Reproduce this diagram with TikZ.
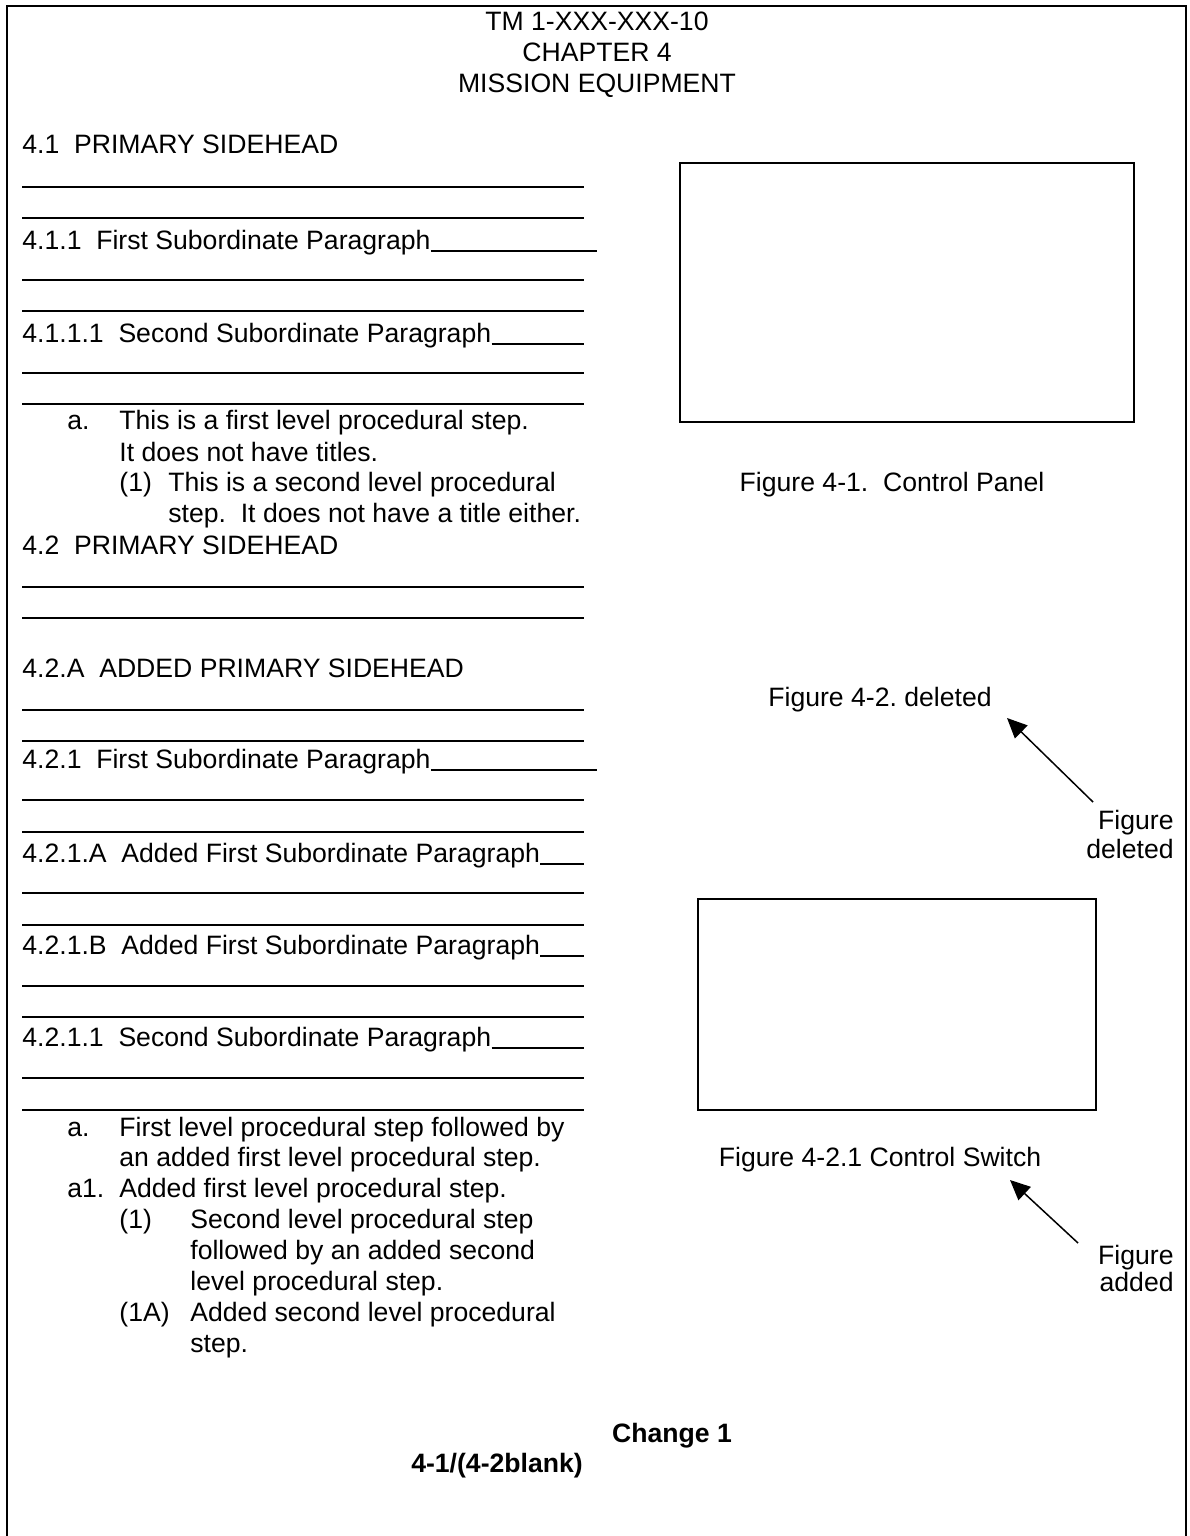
\documentclass[tikz,border=0pt]{standalone}
\usepackage{fontspec}
\setmainfont{Liberation Sans}
\usetikzlibrary{arrows.meta}
\frenchspacing
\newcommand{\fsz}{\fontsize{13.3}{15.5}\selectfont}
\tikzset{
  txt/.style={anchor=base west, inner sep=0pt, font=\fsz},
  ctxt/.style={anchor=base, inner sep=0pt, font=\fsz},
  rtxt/.style={anchor=base east, inner sep=0pt, font=\fsz},
  btxt/.style={anchor=base, inner sep=0pt, font=\fsz\bfseries},
  rulel/.style={line width=1pt},
  figbox/.style={draw, line width=1pt},
  arr/.style={line width=0.75pt, -{Triangle[length=10pt,width=9pt]}},
}
\begin{document}
\begin{tikzpicture}[x=0.5pt,y=-0.5pt]
\useasboundingbox (0,0) rectangle (1189,1536);
% page frame
\draw[line width=1pt] (7,1540) -- (7,6) -- (1186,6) -- (1186,1540);
% header
\node[ctxt] (h1) at (597,31) {TM 1-XXX-XXX-10};
\node[ctxt] (h2) at (597,62) {CHAPTER 4};
\node[ctxt] (h3) at (597,93) {MISSION EQUIPMENT};
% end coordinates for rules
\coordinate (eA) at (584,0);
\coordinate (eB) at (597,0);
% left column
\node[txt] (s41) at (22,154) {4.1\ \ PRIMARY SIDEHEAD};
\foreach \y in {187,218,280,311,373,404,587,618,710,741,800,832,893,925,986,1017,1078,1110}
  \draw[rulel] (22,\y) -- (584,\y);
\node[txt] (s411) at (22,249) {4.1.1\ \ First Subordinate Paragraph};
\draw[rulel] ([yshift=-1pt]s411.base east) -- ([yshift=-1pt]s411.base east -| eB);
\node[txt] (s4111) at (22,342) {4.1.1.1\ \ Second Subordinate Paragraph};
\draw[rulel] ([yshift=-1pt]s4111.base east) -- ([yshift=-1pt]s4111.base east -| eA);
\node[txt] (pa) at (67,429) {a.};
\node[txt] (pa1) at (119,429) {This is a first level procedural step.};
\node[txt] (pa2) at (119,461) {It does not have titles.};
\node[txt] (p1) at (119,491) {(1)};
\node[txt] (p11) at (168,491) {This is a second level procedural};
\node[txt] (p12) at (168,522) {step.\ \ It does not have a title either.};
\node[txt] (s42) at (22,554) {4.2\ \ PRIMARY SIDEHEAD};
\node[txt] (s42A) at (22,677) {4.2.A\ \ ADDED PRIMARY SIDEHEAD};
\node[txt] (s421) at (22,768) {4.2.1\ \ First Subordinate Paragraph};
\draw[rulel] ([yshift=-1pt]s421.base east) -- ([yshift=-1pt]s421.base east -| eB);
\node[txt] (s421A) at (22,862) {4.2.1.A\ \ Added First Subordinate Paragraph};
\draw[rulel] ([yshift=-1pt]s421A.base east) -- ([yshift=-1pt]s421A.base east -| eA);
\node[txt] (s421B) at (22,954) {4.2.1.B\ \ Added First Subordinate Paragraph};
\draw[rulel] ([yshift=-1pt]s421B.base east) -- ([yshift=-1pt]s421B.base east -| eA);
\node[txt] (s4211) at (22,1046) {4.2.1.1\ \ Second Subordinate Paragraph};
\draw[rulel] ([yshift=-1pt]s4211.base east) -- ([yshift=-1pt]s4211.base east -| eA);
\node[txt] (qa) at (67,1136) {a.};
\node[txt] (qa1) at (119,1136) {First level procedural step followed by};
\node[txt] (qa2) at (119,1166) {an added first level procedural step.};
\node[txt] (qb) at (67,1197) {a1.};
\node[txt] (qb1) at (119,1197) {Added first level procedural step.};
\node[txt] (q1) at (119,1228) {(1)};
\node[txt] (q11) at (190,1228) {Second level procedural step};
\node[txt] (q12) at (190,1259) {followed by an added second};
\node[txt] (q13) at (190,1290) {level procedural step.};
\node[txt] (q2) at (119,1321) {(1A)};
\node[txt] (q21) at (190,1321) {Added second level procedural};
\node[txt] (q22) at (190,1352) {step.};
% footer
\node[btxt] (chg) at (672,1442) {Change 1};
\node[btxt] (pg) at (497,1472) {4-1/(4-2blank)};
% right column
\draw[figbox] (680,163) rectangle (1134,422);
\node[ctxt] (cap1) at (892,491) {Figure 4-1.\ \ Control Panel};
\node[ctxt] (cap2) at (880,706) {Figure 4-2. deleted};
\node[rtxt] (ndel1) at (1174,829) {Figure};
\node[rtxt] (ndel2) at (1174,858) {deleted};
\coordinate (dtail) at (1093,802);
\coordinate (dtip) at (1007,718);
\draw[arr] (dtail) -- (dtip);
\draw[figbox] (698,899) rectangle (1096,1110);
\node[ctxt] (cap3) at (880,1166) {Figure 4-2.1 Control Switch};
\node[rtxt] (nadd1) at (1174,1264) {Figure};
\node[rtxt] (nadd2) at (1174,1291) {added};
\coordinate (atail) at (1078,1243);
\coordinate (atip) at (1010,1180);
\draw[arr] (atail) -- (atip);
\end{tikzpicture}
\end{document}
